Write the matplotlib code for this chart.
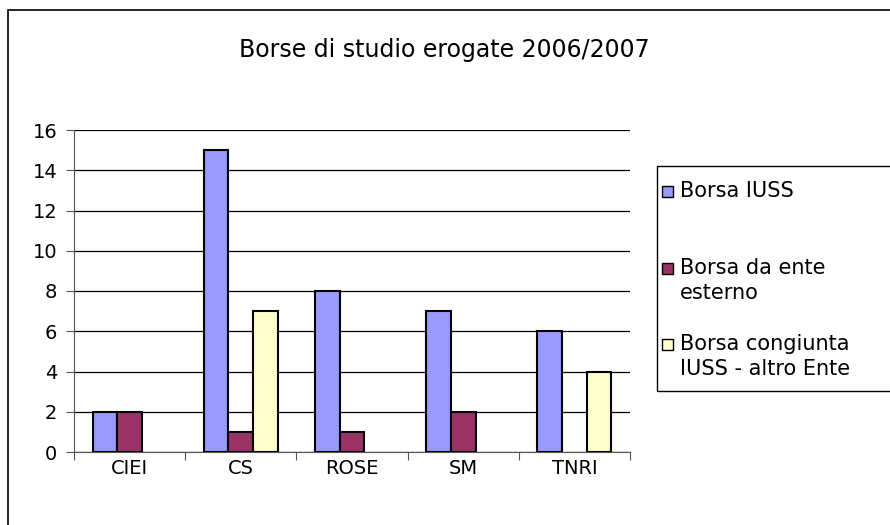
import numpy as np
import matplotlib
matplotlib.use("Agg")
import matplotlib.pyplot as plt
from matplotlib.patches import Rectangle

categories = ["CIEI", "CS", "ROSE", "SM", "TNRI"]
series_names = ["Borsa IUSS", "Borsa da ente\nesterno", "Borsa congiunta\nIUSS - altro Ente"]
borsa_iuss = [2, 15, 8, 7, 6]
borsa_ente = [2, 1, 1, 2, 0]
borsa_congiunta = [0, 7, 0, 0, 4]
colors = ["#9999FF", "#993366", "#FFFFCC"]
title = "Borse di studio erogate 2006/2007"
yticks = [0, 2, 4, 6, 8, 10, 12, 14, 16]

plt.rcParams['font.family'] = ['DejaVu Sans']

W, H = 890, 525
fig = plt.figure(figsize=(W / 100, H / 100), dpi=100)

def fx(px):
    return px / W

def fy(py):
    return 1 - py / H

# outer chart border
fig.patches.append(Rectangle((fx(8), fy(530)), fx(900) - fx(8), fy(10) - fy(530),
                             transform=fig.transFigure, fill=False,
                             edgecolor="black", linewidth=1.2, zorder=0))

ax = fig.add_axes([fx(74), fy(452), fx(630) - fx(74), fy(130) - fy(452)])

series = [borsa_iuss, borsa_ente, borsa_congiunta]
w = 1 / 4.5
x = np.arange(len(categories))
for k, vals in enumerate(series):
    vals = np.asarray(vals, dtype=float)
    m = vals > 0
    ax.bar(x[m] + (k - 1) * w, vals[m], width=w, color=colors[k],
           edgecolor="black", linewidth=1.5, zorder=3)

ax.set_xlim(-0.5, len(categories) - 0.5)
ax.set_ylim(0, 16)
ax.set_yticks(yticks)
ax.set_yticklabels([str(t) for t in yticks], fontsize=14)
ax.yaxis.grid(True, color="black", linewidth=0.9, zorder=0)
ax.set_axisbelow(True)

ax.set_xticks(np.arange(len(categories) + 1) - 0.5)
ax.set_xticklabels([])
ax.set_xticks(x, minor=True)
ax.set_xticklabels(categories, minor=True, fontsize=14)
ax.tick_params(axis="x", which="minor", length=0, pad=5)
ax.tick_params(axis="x", which="major", length=6, direction="out", color="#555555")
ax.tick_params(axis="y", length=6, direction="out", color="#555555", pad=6)

for s in ["top", "right"]:
    ax.spines[s].set_visible(False)
ax.spines["left"].set_color("#555555")
ax.spines["bottom"].set_color("#555555")

fig.text(fx(444), fy(50), title, ha="center", va="center", fontsize=17)

# legend box
fig.patches.append(Rectangle((fx(657), fy(391)), fx(900) - fx(657), fy(166) - fy(391),
                             transform=fig.transFigure, fill=True, facecolor="white",
                             edgecolor="black", linewidth=1.0, zorder=1))
leg_y = [191, 268, 344]
for k in range(3):
    fig.patches.append(Rectangle((fx(662), fy(leg_y[k] + 6)), fx(11), fy(0) - fy(11),
                                 transform=fig.transFigure, facecolor=colors[k],
                                 edgecolor="black", linewidth=1.0, zorder=2))
    fig.text(fx(680), fy(leg_y[k] - 10), series_names[k], ha="left", va="top",
             fontsize=15, linespacing=1.3, zorder=3)

fig.savefig("out.png", dpi=100)
